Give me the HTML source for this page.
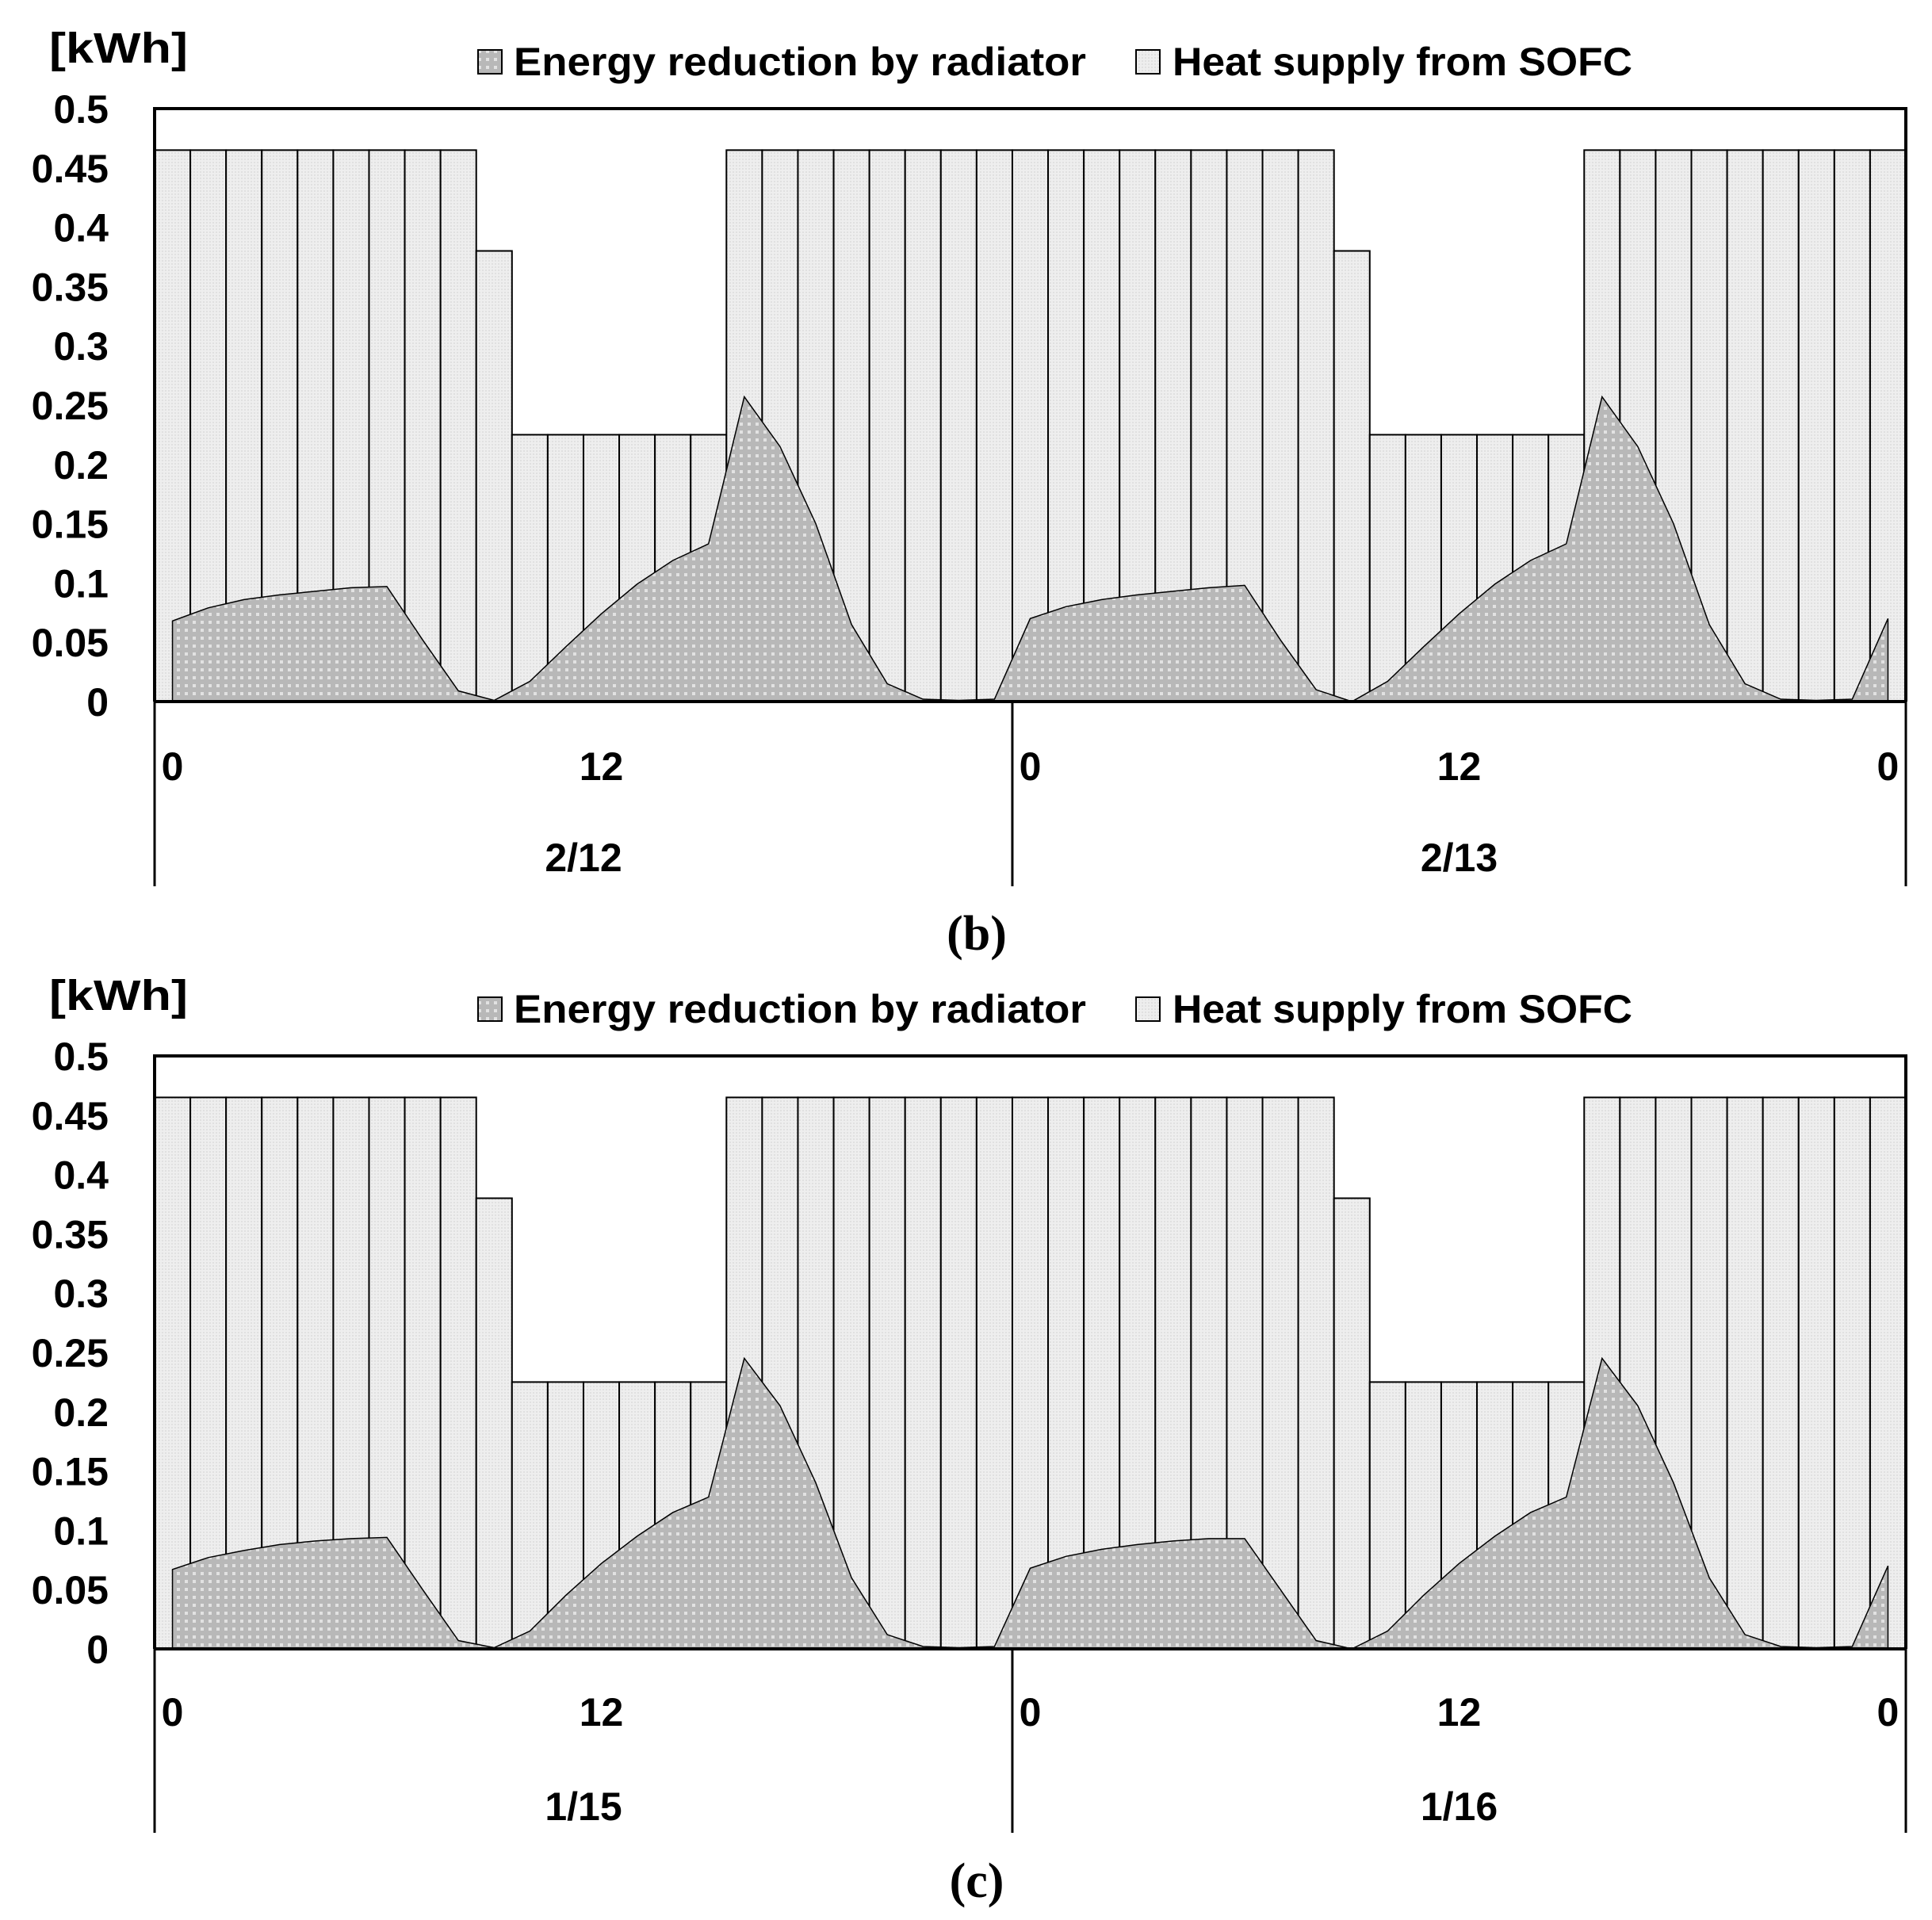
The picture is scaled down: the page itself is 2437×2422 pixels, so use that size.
<!DOCTYPE html>
<html><head><meta charset="utf-8"><style>
html,body{margin:0;padding:0;background:#fff;}
svg{display:block;}
text{font-family:"Liberation Sans",sans-serif;font-weight:bold;fill:#000;}
</style></head><body>
<svg id="root" width="2437" height="2422" viewBox="0 0 2437 2422" xmlns="http://www.w3.org/2000/svg">
<defs>
<pattern id="barPat" width="4" height="4" patternUnits="userSpaceOnUse"><rect width="4" height="4" fill="#eeeeee"/><rect width="2" height="2" fill="#e0e0e0"/></pattern>
<pattern id="areaPat" width="10" height="10" patternUnits="userSpaceOnUse"><rect width="10" height="10" fill="#b8b8b8"/><rect x="3" y="3" width="4" height="4" fill="#e2e2e2"/></pattern>
</defs>
</svg>
<script>
const hours = [0,1,2,3,4,5,6,7,8,9,10,11,12,13,14,15,16,17,18,19,20,21,22,23,0,1,2,3,4,5,6,7,8,9,10,11,12,13,14,15,16,17,18,19,20,21,22,23,0];
const yTicks = [0,0.05,0.1,0.15,0.2,0.25,0.3,0.35,0.4,0.45,0.5];
const yTickLabels = ["0","0.05","0.1","0.15","0.2","0.25","0.3","0.35","0.4","0.45","0.5"];
const xTickIdx = [0,12,24,36,48];
const xTickLabels = ["0","12","0","12","0"];
const sofcB = [0.465,0.465,0.465,0.465,0.465,0.465,0.465,0.465,0.465,0.38,0.225,0.225,0.225,0.225,0.225,0.225,0.465,0.465,0.465,0.465,0.465,0.465,0.465,0.465,0.465,0.465,0.465,0.465,0.465,0.465,0.465,0.465,0.465,0.38,0.225,0.225,0.225,0.225,0.225,0.225,0.465,0.465,0.465,0.465,0.465,0.465,0.465,0.465,0.465];
const radB = [0.068,0.079,0.086,0.09,0.093,0.096,0.097,0.052,0.009,0.001,0.017,0.046,0.074,0.099,0.119,0.133,0.257,0.215,0.15,0.065,0.015,0.002,0.001,0.002,0.07,0.08,0.086,0.09,0.093,0.096,0.098,0.052,0.01,0.0,0.017,0.046,0.074,0.099,0.119,0.133,0.257,0.215,0.15,0.065,0.015,0.002,0.001,0.002,0.07];
const datesB = ["2/12","2/13"];
const sofcC = sofcB.slice();
const radC = [0.067,0.077,0.083,0.088,0.091,0.093,0.094,0.05,0.007,0.001,0.015,0.045,0.072,0.095,0.115,0.128,0.245,0.205,0.14,0.06,0.012,0.002,0.001,0.002,0.068,0.078,0.084,0.088,0.091,0.093,0.093,0.05,0.007,0.0,0.015,0.045,0.072,0.095,0.115,0.128,0.245,0.205,0.14,0.06,0.012,0.002,0.001,0.002,0.07];
const datesC = ["1/15","1/16"];

const NS="http://www.w3.org/2000/svg";
const root=document.getElementById('root');
function mk(tag,attrs,parent,txt){const e=document.createElementNS(NS,tag);for(const k in attrs)e.setAttribute(k,attrs[k]);if(txt!==undefined)e.textContent=txt;(parent||root).appendChild(e);return e;}

function chart(cfg,sofc,rad,dates){
  const g=mk('g',{});
  
  
  const L=195,R=2404,top=cfg.top,zero=cfg.zero;
  const n=hours.length,bw=(R-L)/n;
  const y=v=>zero-(v/0.5)*(zero-top);
  const xc=i=>L+(i+0.5)*bw;
  sofc.forEach((v,i)=>{
    const b=mk('rect',{x:L+i*bw,y:y(v),width:bw,height:zero-y(v),fill:'url(#barPat)',stroke:'#000','stroke-width':2},g);
    
    
  });
  let d='M'+xc(0)+','+zero;
  rad.forEach((v,i)=>{d+=' L'+xc(i)+','+y(v);});
  d+=' L'+xc(n-1)+','+zero+' Z';
  const a=mk('path',{d:d,fill:'url(#areaPat)',stroke:'#000','stroke-width':1.5},g);
  
  
  const fr=mk('path',{d:`M${L},${zero} L${L},${top} L${R},${top} L${R},${zero}`,fill:'none',stroke:'#000','stroke-width':4},g);
  
  
  const ax=mk('line',{x1:L,y1:zero,x2:R,y2:zero,stroke:'#000','stroke-width':4},g);
  
  
  [0,24,49].forEach(k=>{
    const xx=L+k*bw;
    const s=mk('line',{x1:xx,y1:zero,x2:xx,y2:cfg.sepBottom,stroke:'#000','stroke-width':3},g);
    
    
  });
  yTicks.forEach((v,i)=>{
    const t=mk('text',{x:137,y:y(v)+18,'text-anchor':'end','font-size':50},g,yTickLabels[i]);
    
    
  });
  xTickIdx.forEach((k,i)=>{
    const t=mk('text',{x:xc(k),y:cfg.tickY+18,'text-anchor':'middle','font-size':50},g,xTickLabels[i]);
    
    
  });
  dates.forEach((s,i)=>{
    const x0=L+i*24*bw,x1=i===0?L+24*bw:R;
    const t=mk('text',{x:(x0+x1)/2,y:cfg.dateY+18,'text-anchor':'middle','font-size':50},g,s);
    
    
  });
  const u=mk('text',{x:62,y:cfg.unitY+20,'font-size':54,textLength:175,lengthAdjust:'spacingAndGlyphs'},g,'[kWh]');
  
  
  const m1=mk('rect',{x:603,y:cfg.legY-15,width:30,height:30,fill:'url(#areaPat)',stroke:'#000','stroke-width':2},g);
  
  
  const l1=mk('text',{x:648,y:cfg.legY+17,'font-size':50,textLength:722,lengthAdjust:'spacingAndGlyphs'},g,'Energy reduction by radiator');
  
  
  const m2=mk('rect',{x:1433,y:cfg.legY-15,width:30,height:30,fill:'url(#barPat)',stroke:'#000','stroke-width':2},g);
  
  
  const l2=mk('text',{x:1479,y:cfg.legY+17,'font-size':50,textLength:580,lengthAdjust:'spacingAndGlyphs'},g,'Heat supply from SOFC');
  
  
  const c=mk('text',{x:1232,y:cfg.capY+20,'text-anchor':'middle','font-size':62,style:'font-family:"Liberation Serif",serif'},g,cfg.cap);
  
  
}
chart({name:'chart-b',top:137,zero:885,sepBottom:1118,tickY:966,dateY:1081,capY:1178,legY:78,unitY:59,cap:'(b)'},sofcB,radB,datesB);
chart({name:'chart-c',top:1332,zero:2080,sepBottom:2312,tickY:2159,dateY:2278,capY:2373,legY:1273,unitY:1254,cap:'(c)'},sofcC,radC,datesC);
</script>
</body></html>
